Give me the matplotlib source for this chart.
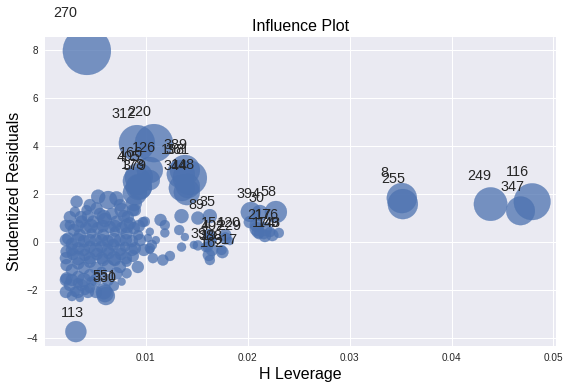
import numpy as np
import matplotlib
matplotlib.use("Agg")
import matplotlib.pyplot as plt

plt.style.use("seaborn-v0_8")

# --- labelled (influential) observations: leverage, studentized residual, bubble size
label_ids = ["270", "312", "220", "126", "166", "405", "178", "379",
             "389", "198", "361", "344", "148",
             "8", "255", "249", "116", "347", "113", "551", "330",
             "394", "30", "58", "217", "176", "174", "143", "49",
             "89", "35", "154", "120", "402", "229", "39", "388", "317", "162", "19"]
label_lev = [0.00421, 0.00912, 0.01079, 0.01039, 0.00931, 0.00912, 0.00931, 0.00941,
             0.01383, 0.01343, 0.01432, 0.01353, 0.01412,
             0.03512, 0.03522, 0.04383, 0.04791, 0.04677, 0.00313, 0.00588, 0.00598,
             0.0203, 0.02119, 0.02276, 0.02089, 0.02168, 0.02109, 0.02158, 0.02241,
             0.0151, 0.01628, 0.01618, 0.0178, 0.01623, 0.0178, 0.0151, 0.01589, 0.01751, 0.01618, 0.01608]
label_res = [7.96, 4.12, 4.12, 3.0, 2.71, 2.54, 2.29, 2.29,
             3.0, 2.83, 2.67, 2.25, 2.33,
             1.83, 1.58, 1.58, 1.68, 1.30, -3.73, -2.05, -2.15,
             1.25, 1.21, 1.25, 0.54, 0.54, 0.33, 0.33, 0.29,
             1.0, 1.08, 0.31, 0.29, 0.15, 0.15, -0.14, -0.21, -0.42, -0.54, -0.21]
label_size = [2304, 1296, 1444, 676, 784, 784, 676, 576,
              900, 784, 1156, 676, 576,
              900, 900, 1115, 1340, 818, 441, 256, 289,
              400, 256, 484, 196, 196, 100, 100, 144,
              169, 196, 121, 144, 144, 144, 100, 100, 144, 144, 100]

# --- remaining observations
other_lev = [0.01144, 0.0135, 0.01327, 0.01383, 0.0135, 0.01471, 0.01186, 0.01186,
             0.01098, 0.01236, 0.01167, 0.01069, 0.01039, 0.01059, 0.0102, 0.00971,
             0.00882, 0.00892, 0.00921, 0.01743, 0.01648, 0.01648, 0.01628, 0.01824,
             0.0202, 0.02089, 0.0222, 0.02168, 0.02099, 0.02305,
             0.00892, 0.01402, 0.01039,
             0.0032, 0.00532, 0.0063, 0.00712, 0.00303, 0.00418, 0.00516, 0.00762,
             0.00875, 0.0099, 0.00254, 0.00369, 0.00483, 0.00598, 0.00712, 0.00843,
             0.01039, 0.00238, 0.00352, 0.00467, 0.00581, 0.00696, 0.00811, 0.00924,
             0.00222, 0.00336, 0.0045, 0.00565, 0.00679, 0.00794, 0.00892, 0.01039,
             0.00222, 0.00336, 0.0045, 0.00581, 0.00696, 0.00811,
             0.00222, 0.00336, 0.0045, 0.00565, 0.00712, 0.00811,
             0.00254, 0.00369, 0.00467, 0.00762, 0.00303, 0.00401, 0.00608,
             0.00274, 0.00392, 0.00509, 0.00627, 0.00745, 0.00863,
             0.00284, 0.00401, 0.00519, 0.00637, 0.00755, 0.00872,
             0.00274, 0.00392, 0.00509, 0.00627, 0.00745,
             0.00293, 0.00411, 0.00529, 0.00647, 0.00764, 0.00882,
             0.00431, 0.00549, 0.00666, 0.00784,
             0.00333, 0.0045, 0.00686, 0.00509, 0.00274, 0.00352,
             # filling the dense block
             0.00254, 0.00362, 0.00588, 0.00823,
             0.00215, 0.00333, 0.0046, 0.00578, 0.00696, 0.00814, 0.00931,
             0.00215, 0.00333, 0.0045, 0.00568, 0.00686, 0.00804, 0.00941,
             0.00274, 0.00392, 0.00509, 0.00627, 0.00745, 0.00863, 0.0098,
             0.00215, 0.00333, 0.0045, 0.00568, 0.00686, 0.00804,
             0.00215, 0.00274, 0.00392, 0.00509, 0.00627,
             0.00215, 0.00333, 0.00431,
             0.0045, 0.00745]
other_res = [0.92, 1.08, 0.5, 0.21, -0.21, -0.12, 0.38, 0.71,
             0.08, -0.58, -0.75, -0.67, -0.33, -0.12, 0.17, 0.83,
             1.62, 1.33, -1.04, -0.33, 0.08, -0.33, -0.75, 0.04,
             0.83, 0.71, 0.42, 0.25, 0.42, 0.38,
             2.04, 2.08, 2.58,
             1.68, 1.89, 1.75, 1.82, 1.26, 1.33, 1.40, 1.33,
             1.33, 0.85, 0.71, 0.85, 0.85, 0.92, 0.85, 0.78,
             0.43, 0.15, 0.29, 0.36, 0.29, 0.43, 0.36, 0.29,
             -0.40, -0.26, -0.2, -0.2, -0.12, -0.2, -0.26, -0.26,
             -0.96, -0.89, -0.82, -0.75, -0.75, -0.82,
             -1.51, -1.45, -1.38, -1.24, -1.30, -1.30,
             -1.79, -1.79, -1.65, -1.65, -2.07, -2.0, -2.25,
             -0.08, 0.04, 0.08, 0.04, 0.08, 0.04,
             -0.5, -0.54, -0.5, -0.46, -0.5, -0.58,
             -1.17, -1.08, -1.08, -1.0, -1.04,
             0.5, 0.58, 0.58, 0.62, 0.58, 0.58,
             1.08, 1.17, 1.17, 1.08,
             -1.71, -1.92, -1.83, -2.08, -2.25, -2.33,
             1.04, 1.04, 1.04, 1.04,
             0.67, 0.67, 0.67, 0.67, 0.67, 0.67, 0.67,
             0.08, 0.08, 0.08, 0.08, 0.08, 0.08, 0.08,
             -0.33, -0.33, -0.33, -0.33, -0.33, -0.33, -0.33,
             -0.67, -0.67, -0.67, -0.67, -0.67, -0.67,
             -1.58, -1.58, -1.58, -1.58, -1.58,
             -2.08, -2.08, -2.08,
             1.54, 1.54]
other_size = [144, 196, 100, 64, 81, 64, 81, 100,
              64, 100, 121, 100, 64, 100, 64, 100,
              256, 144, 144, 100, 100, 144, 100, 64,
              144, 196, 100, 144, 144, 100,
              576, 676, 400,
              144, 196, 324, 196, 100, 100, 144, 196,
              144, 100, 100, 144, 144, 196, 144, 144,
              64, 144, 144, 100, 144, 100, 144, 100,
              144, 144, 144, 144, 144, 100, 144, 100,
              144, 144, 144, 144, 144, 100,
              144, 144, 144, 100, 144, 100,
              144, 144, 100, 64, 100, 100, 324,
              144, 144, 144, 144, 144, 144,
              144, 144, 144, 144, 144, 144,
              144, 144, 144, 144, 144,
              144, 144, 144, 144, 144, 144,
              144, 144, 144, 144,
              100, 100, 100, 144, 100, 64,
              144, 144, 196, 144,
              144, 144, 196, 144, 144, 196, 144,
              144, 196, 144, 144, 196, 144, 144,
              144, 144, 196, 144, 144, 144, 144,
              144, 196, 144, 144, 196, 144,
              144, 144, 196, 144, 144,
              144, 144, 144,
              144, 144]

lev = np.array(label_lev + other_lev)
res = np.array(label_res + other_res)
psize = np.array(label_size + other_size, dtype=float)

fig = plt.figure(figsize=(570 / 72, 389 / 72), dpi=72)
ax = fig.add_axes([45 / 570, 43 / 389, 511 / 570, 309 / 389])

ax.scatter(lev, res, s=psize, alpha=0.75)

for i, lab in enumerate(label_ids):
    off = (label_size[i] / 2) ** 0.5
    ax.annotate(lab, (label_lev[i], label_res[i]), xytext=(-off, off),
                textcoords="offset points", size="x-large", annotation_clip=False)

ax.set_xlim(0.0001, 0.05025)
ax.set_ylim(-4.33, 8.54)
ax.set_xticks([0.01, 0.02, 0.03, 0.04, 0.05])
ax.set_yticks([-4, -2, 0, 2, 4, 6, 8])

font = {"fontsize": 16, "color": "black"}
ax.set_ylabel("Studentized Residuals", **font)
ax.set_xlabel("H Leverage", **font)
ax.set_title("Influence Plot", **font)

fig.savefig("out.png", dpi=72)
